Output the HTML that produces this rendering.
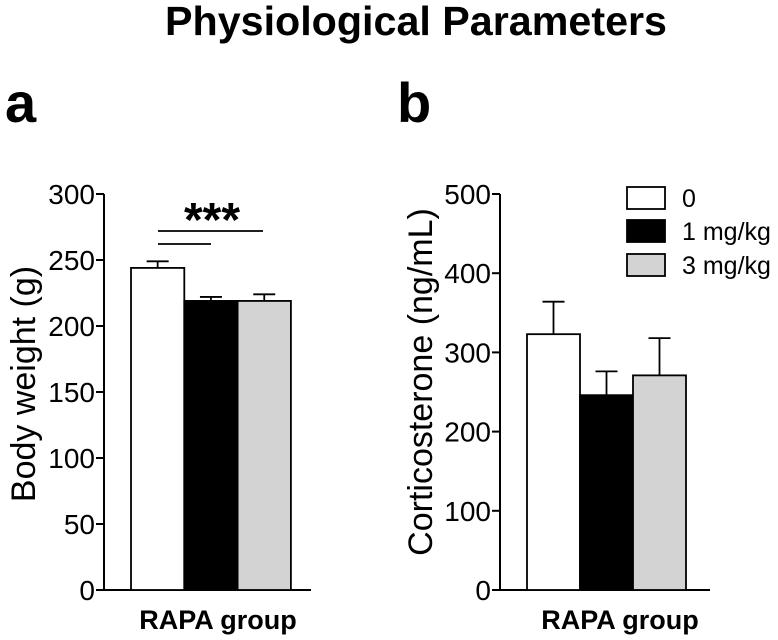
<!DOCTYPE html>
<html><head><meta charset="utf-8"><style>
body{margin:0;background:#fff}
svg{display:block;font-family:"Liberation Sans",Arial,sans-serif}
</style></head><body>
<svg id="c" width="778" height="640" viewBox="0 0 778 640">
<text x="416" y="35" font-size="41" font-weight="bold" text-anchor="middle" textLength="502" lengthAdjust="spacingAndGlyphs">Physiological Parameters</text>
<text x="5" y="122" font-size="56" font-weight="bold">a</text>
<text x="397" y="122" font-size="56" font-weight="bold">b</text>
<g id="pa"></g>
<g id="pb"></g>
</svg>
<script>
const groups = ["0", "1 mg/kg", "3 mg/kg"];
const fills = ["#fff", "#000", "#d3d3d3"];
const bwValues = [244, 219, 219];
const bwErrors = [5, 3, 5];
const bwTicks = [0, 50, 100, 150, 200, 250, 300];
const cortValues = [323, 246, 271];
const cortErrors = [41, 30, 47];
const cortTicks = [0, 100, 200, 300, 400, 500];
const NS = "http://www.w3.org/2000/svg";
function mk(p, tag, a, txt){const e=document.createElementNS(NS,tag);for(const k in a)e.setAttribute(k,a[k]);if(txt!==undefined)e.textContent=txt;p.appendChild(e);return e;}
function panel(g, cfg){
  const y = v => cfg.y0 - (v/cfg.max)*(cfg.y0-cfg.y1);
  let e = mk(g,'line',{x1:cfg.ax,y1:cfg.y1,x2:cfg.ax,y2:cfg.y0,stroke:'#000','stroke-width':2});
   
  e = mk(g,'line',{x1:cfg.ax,y1:cfg.y0,x2:cfg.xend,y2:cfg.y0,stroke:'#000','stroke-width':2});
   
  cfg.ticks.forEach(t=>{
    const ty=y(t);
    let l=mk(g,'line',{x1:cfg.ax-8,y1:ty,x2:cfg.ax,y2:ty,stroke:'#000','stroke-width':2});
     
    let tx=mk(g,'text',{x:cfg.ax-9,y:ty+10,'font-size':28,'text-anchor':'end'},String(t));
     
  });
  cfg.values.forEach((v,i)=>{
    const x=cfg.bx+i*cfg.bw, cx=x+cfg.bw/2;
    let el=mk(g,'line',{x1:cx,y1:y(v),x2:cx,y2:y(v+cfg.err[i]),stroke:'#000','stroke-width':1.8});
     
    el=mk(g,'line',{x1:cx-11,y1:y(v+cfg.err[i]),x2:cx+11,y2:y(v+cfg.err[i]),stroke:'#000','stroke-width':1.8});
     
    const r=mk(g,'rect',{x:x,y:y(v),width:cfg.bw,height:cfg.y0-y(v),fill:fills[i],stroke:'#000','stroke-width':1.8});
     
  });
  let yl=mk(g,'text',{transform:`translate(${cfg.lx},${cfg.lc}) rotate(-90)`,'font-size':34,'text-anchor':'middle'},cfg.label);
   
  let xl=mk(g,'text',{x:cfg.xlc,y:629,'font-size':27,'font-weight':'bold','text-anchor':'middle'},'RAPA group');
   
  return y;
}
const pa=document.getElementById('pa'), pb=document.getElementById('pb');
panel(pa,{ax:104,y0:590,y1:194,max:300,xend:311,bx:131,bw:53.3,values:bwValues,err:bwErrors,ticks:bwTicks,label:'Body weight (g)',lx:35,lc:384,xlc:218});
panel(pb,{ax:500,y0:590,y1:194,max:500,xend:710,bx:527,bw:53,values:cortValues,err:cortErrors,ticks:cortTicks,label:'Corticosterone (ng/mL)',lx:432,lc:382,xlc:620});
let s=mk(pa,'line',{x1:158,y1:231,x2:263,y2:231,stroke:'#000','stroke-width':1.8});
 
s=mk(pa,'line',{x1:158,y1:244,x2:211,y2:244,stroke:'#000','stroke-width':1.8});
 
s=mk(pa,'text',{x:212,y:236,'font-size':48,'font-weight':'bold','text-anchor':'middle'},'***');
 
const legY=[187,220,254];
groups.forEach((gname,i)=>{
  const r=mk(pb,'rect',{x:627,y:legY[i],width:38,height:22,fill:fills[i],stroke:'#000','stroke-width':1.8});
   
  const t=mk(pb,'text',{x:682,y:legY[i]+20,'font-size':25},gname);
   
});
</script>
</body></html>
